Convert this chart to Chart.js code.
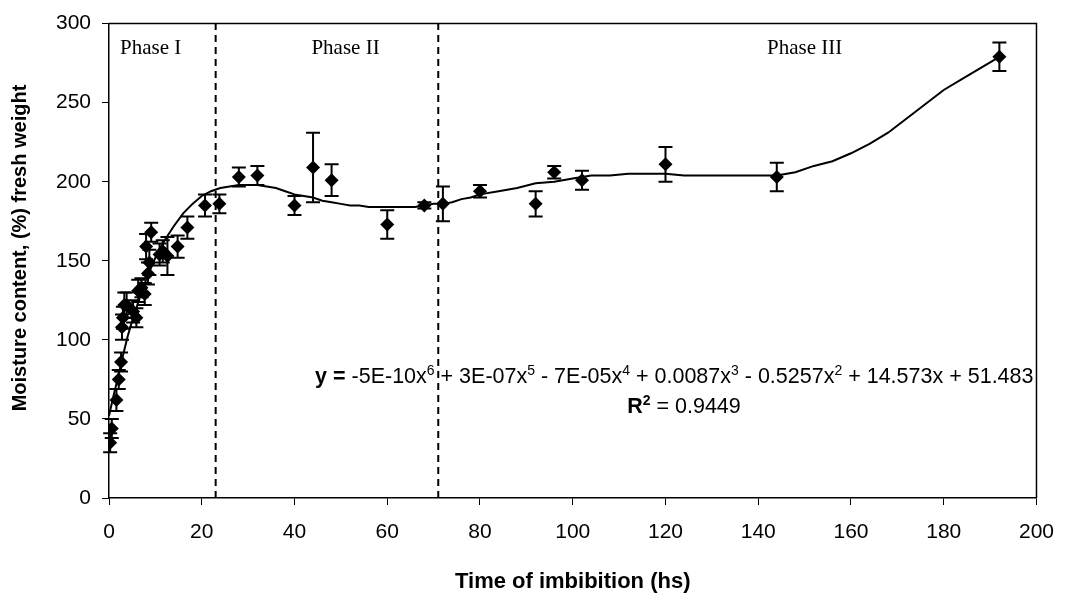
<!DOCTYPE html>
<html>
<head>
<meta charset="utf-8">
<script src="https://cdn.jsdelivr.net/npm/chart.js@4.4.0/dist/chart.umd.min.js"></script>
<style>
  html, body { margin: 0; padding: 0; background: #ffffff; }
  #wrap { width: 1069px; height: 616px; }
</style>
</head>
<body>
<div id="wrap"><canvas id="chartImbibicion" width="1069" height="616"></canvas></div>
<script>
// ========================================
// DATA - moisture content vs time of imbibition
// ========================================
const timeHours   = [0.25, 0.6, 1.6, 2.1, 2.6, 2.8, 3.0, 3.3, 3.8, 5.2, 5.9, 6.3, 7.0, 7.7, 8.0, 8.4, 8.7, 9.1, 10.9, 11.6, 12.6, 14.8, 16.9, 20.7, 23.8, 28, 32, 40, 44, 48, 60, 68, 72, 80, 92, 96, 102, 120, 144, 192];
const moisture    = [35, 44, 62, 75, 86, 108, 114, 122, 122, 118, 114, 131, 133, 129, 159, 142, 149, 168, 154, 156, 153, 159, 171, 185, 186, 203, 204, 185, 209, 201, 173, 185, 186, 194, 186, 206, 201, 211, 203, 279];
const moistureErr = [6, 6, 7, 6, 6, 8, 7, 8, 8, 7, 6, 7, 6, 7, 8, 7, 8, 6, 7, 7, 12, 7, 7, 7, 6, 6, 6, 6, 22, 10, 9, 2, 11, 4, 8, 4, 6, 11, 9, 9];

// trend curve
const fitTime     = [0, 1, 2, 3, 4, 5, 6, 7, 8, 9, 10, 11, 12, 14, 16, 18, 20, 22, 24, 26, 28, 30, 32, 34, 36, 38, 40, 42, 44, 46, 48, 50, 52, 54, 56, 58, 60, 62, 64, 66, 68, 70, 72, 74, 76, 78, 80, 84, 88, 92, 96, 100, 104, 108, 112, 116, 120, 124, 128, 132, 136, 140, 144, 148, 152, 156, 160, 164, 168, 172, 176, 180, 184, 188, 192];
const fitMoisture = [52, 65, 77, 90, 102, 112, 121, 130, 138, 145, 152, 158, 163, 172, 180, 186, 191, 194, 196, 197, 198, 198, 198, 197, 196, 194, 192, 191, 190, 188, 187, 186, 185, 185, 184, 184, 184, 184, 184, 184, 185, 186, 186, 187, 189, 190, 192, 194, 196, 199, 200, 202, 204, 204, 205, 205, 205, 204, 204, 204, 204, 204, 204, 206, 210, 213, 218, 224, 231, 240, 249, 258, 265, 272, 279];

const phaseBounds = [23, 71];
const phaseNames  = ['Phase I', 'Phase II', 'Phase III'];

const TEXT_FONT = '"Liberation Sans", Arial, sans-serif';
const SERIF_FONT = '"Liberation Serif", "Times New Roman", serif';

// ========================================
// PLUGIN: error bars
// ========================================
const errorBarsPlugin = {
    id: 'errorBars',
    afterDatasetsDraw(chart) {
        const ctx = chart.ctx;
        const xs = chart.scales.x;
        const ys = chart.scales.y;
        const cap = 7;
        ctx.save();
        ctx.strokeStyle = '#000000';
        ctx.lineWidth = 2;
        timeHours.forEach((t, i) => {
            const px = xs.getPixelForValue(t);
            const top = ys.getPixelForValue(moisture[i] + moistureErr[i]);
            const bot = ys.getPixelForValue(moisture[i] - moistureErr[i]);
            ctx.beginPath();
            ctx.moveTo(px, top); ctx.lineTo(px, bot);
            ctx.moveTo(px - cap, top); ctx.lineTo(px + cap, top);
            ctx.moveTo(px - cap, bot); ctx.lineTo(px + cap, bot);
            ctx.stroke();
        });
        ctx.restore();
    }
};

// ========================================
// PLUGIN: frame, y title, phase labels, equation
// ========================================
const annotationsPlugin = {
    id: 'annotations',
    afterDraw(chart) {
        const ctx = chart.ctx;
        const area = chart.chartArea;
        const xs = chart.scales.x;
        const ys = chart.scales.y;
        ctx.save();

        // plot frame (top + right)
        ctx.strokeStyle = '#000000';
        ctx.lineWidth = 1.5;
        ctx.beginPath();
        ctx.moveTo(area.left, area.top);
        ctx.lineTo(area.right, area.top);
        ctx.lineTo(area.right, area.bottom);
        ctx.stroke();

        // y axis title
        ctx.fillStyle = '#000000';
        ctx.save();
        ctx.translate(20, 248);
        ctx.rotate(-Math.PI / 2);
        ctx.font = 'bold 20px ' + TEXT_FONT;
        ctx.textAlign = 'center';
        ctx.textBaseline = 'middle';
        ctx.fillText('Moisture content, (%) fresh weight', 0, 0);
        ctx.restore();

        // phase labels
        ctx.font = '21px ' + SERIF_FONT;
        ctx.textAlign = 'center';
        ctx.textBaseline = 'middle';
        const labelX = [9, 51, 150];
        phaseNames.forEach((n, i) => {
            ctx.fillText(n, xs.getPixelForValue(labelX[i]), ys.getPixelForValue(284));
        });

        // equation
        const segs = [
            ['y = ', 'b'], ['-5E-10x', 'n'], ['6', 's'], [' + 3E-07x', 'n'], ['5', 's'],
            [' - 7E-05x', 'n'], ['4', 's'], [' + 0.0087x', 'n'], ['3', 's'],
            [' - 0.5257x', 'n'], ['2', 's'], [' + 14.573x + 51.483', 'n']
        ];
        const fonts = {
            b: 'bold 21.5px ' + TEXT_FONT,
            n: '21.5px ' + TEXT_FONT,
            s: '14px ' + TEXT_FONT,
            sb: 'bold 14px ' + TEXT_FONT
        };
        ctx.textAlign = 'left';
        ctx.textBaseline = 'alphabetic';
        let total = 0;
        segs.forEach(s => { ctx.font = fonts[s[1]]; total += ctx.measureText(s[0]).width; });
        let x = area.right - 3 - total;
        const base = 383;
        segs.forEach(s => {
            ctx.font = fonts[s[1]];
            ctx.fillText(s[0], x, s[1] === 's' ? base - 8 : base);
            x += ctx.measureText(s[0]).width;
        });

        // R squared
        const rSegs = [['R', 'b'], ['2', 'sb'], [' = 0.9449', 'n']];
        let rw = 0;
        rSegs.forEach(s => { ctx.font = fonts[s[1]]; rw += ctx.measureText(s[0]).width; });
        x = 684 - rw / 2;
        const rBase = 413;
        rSegs.forEach(s => {
            ctx.font = fonts[s[1]];
            ctx.fillText(s[0], x, s[1] === 'sb' ? rBase - 8 : rBase);
            x += ctx.measureText(s[0]).width;
        });

        ctx.restore();
    }
};

// ========================================
// CHART
// ========================================
const ctx = document.getElementById('chartImbibicion');

const phaseLineSets = phaseBounds.map(b => ({
    type: 'line',
    data: [{ x: b, y: 0 }, { x: b, y: 300 }],
    borderColor: '#000000',
    borderWidth: 2,
    borderDash: [7, 5],
    pointRadius: 0,
    order: 3
}));

const chartImbibicion = new Chart(ctx, {
    type: 'scatter',
    data: {
        datasets: [
            {
                label: 'Moisture',
                data: timeHours.map((t, i) => ({ x: t, y: moisture[i] })),
                pointStyle: 'rectRot',
                pointRadius: 7,
                backgroundColor: '#000000',
                borderColor: '#000000',
                borderWidth: 0,
                order: 1
            },
            {
                type: 'line',
                label: 'Trend',
                data: fitTime.map((t, i) => ({ x: t, y: fitMoisture[i] })),
                borderColor: '#000000',
                borderWidth: 2,
                tension: 0,
                pointRadius: 0,
                order: 2
            },
            ...phaseLineSets
        ]
    },
    options: {
        responsive: false,
        animation: false,
        devicePixelRatio: 1,
        layout: { padding: { top: 18, right: 22, bottom: 0, left: 0 } },
        plugins: {
            legend: { display: false },
            tooltip: { enabled: false }
        },
        scales: {
            x: {
                type: 'linear',
                min: 0,
                max: 200,
                ticks: {
                    stepSize: 20,
                    color: '#000000',
                    padding: 15,
                    font: { family: TEXT_FONT, size: 21 }
                },
                grid: { drawOnChartArea: false, drawTicks: true, tickLength: 7, color: '#000000' },
                border: { color: '#000000', width: 1.5 },
                title: {
                    display: true,
                    text: 'Time of imbibition (hs)',
                    color: '#000000',
                    padding: { top: 0, bottom: 21 },
                    font: { family: TEXT_FONT, size: 22, weight: 'bold' }
                },
                afterFit(scale) { scale.height = 118; }
            },
            y: {
                min: 0,
                max: 300,
                ticks: {
                    stepSize: 50,
                    color: '#000000',
                    padding: 11,
                    font: { family: TEXT_FONT, size: 21 }
                },
                grid: { drawOnChartArea: false, drawTicks: true, tickLength: 7, color: '#000000' },
                border: { color: '#000000', width: 1.5 },
                afterFit(scale) { scale.width = 109; }
            }
        }
    },
    plugins: [errorBarsPlugin, annotationsPlugin]
});
</script>
</body>
</html>
